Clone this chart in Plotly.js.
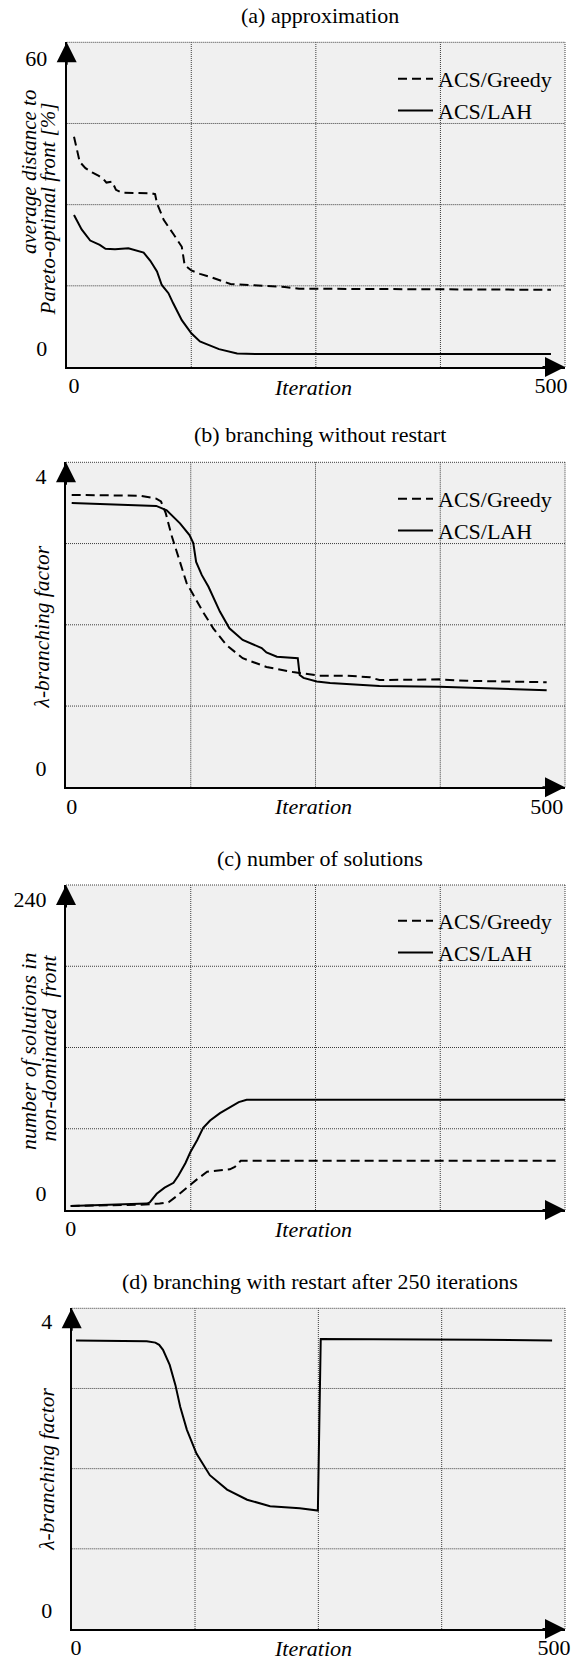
<!DOCTYPE html>
<html>
<head>
<meta charset="utf-8">
<script src="https://cdn.plot.ly/plotly-3.0.1.min.js"></script>
<style>html,body{margin:0;padding:0;background:#fff;}</style>
</head>
<body>
<div id="chart" style="width:573px;height:1660px;"></div>
<script>
// ---------- data ----------
const seriesNames = ['ACS/Greedy', 'ACS/LAH'];
const panelTitles = ['(a) approximation', '(b) branching without restart', '(c) number of solutions', '(d) branching with restart after 250 iterations'];
const xTickVals = [0, 500];
const xTickText = ['0', '500'];
const xTitle = 'Iteration';

// (a) average distance to Pareto-optimal front [%]
const aTickVals = [0, 60];
const aGreedyX = [0, 6, 12, 19, 26, 31, 34, 40, 44, 50, 81, 85, 87, 94, 104, 113, 116, 123, 132, 144, 164, 190, 221, 236, 267, 500];
const aGreedyY = [45.0, 39.8, 38.5, 37.6, 36.9, 36.2, 35.5, 35.7, 34.0, 33.4, 33.3, 33.1, 31.2, 27.8, 24.9, 22.2, 18.4, 17.3, 16.6, 15.9, 14.5, 14.2, 13.9, 13.5, 13.5, 13.3];
const aLahX = [0, 8, 17, 24, 27, 33, 43, 57, 64, 73, 80, 87, 92, 99, 104, 113, 123, 132, 137, 152, 171, 190, 500];
const aLahY = [28.8, 25.8, 23.5, 22.8, 22.6, 21.8, 21.7, 21.9, 21.5, 21.0, 19.3, 17.1, 14.3, 12.6, 10.5, 7.0, 4.3, 2.6, 2.2, 1.0, 0.1, 0, 0];

// (b) lambda-branching factor, no restart
const bTickVals = [0, 4];
const bGreedyX = [0, 72, 89, 94, 99, 105, 114, 121, 128, 138, 149, 163, 180, 205, 233, 261, 289, 314, 324, 387, 416, 500];
const bGreedyY = [3.75, 3.74, 3.70, 3.66, 3.50, 3.20, 2.83, 2.54, 2.38, 2.15, 1.92, 1.69, 1.51, 1.39, 1.32, 1.27, 1.27, 1.25, 1.21, 1.22, 1.20, 1.18];
const bLahX = [0, 89, 100, 114, 124, 128, 131, 137, 144, 156, 166, 180, 200, 205, 216, 238, 240, 244, 258, 272, 324, 387, 500];
const bLahY = [3.64, 3.60, 3.54, 3.36, 3.20, 3.09, 2.83, 2.65, 2.49, 2.15, 1.92, 1.76, 1.65, 1.59, 1.53, 1.51, 1.28, 1.24, 1.19, 1.17, 1.13, 1.12, 1.07];

// (c) number of solutions in non-dominated front
const cTickVals = [0, 240];
const cGreedyX = [0, 70, 90, 99, 107, 117, 128, 138, 148, 161, 166, 172, 495];
const cGreedyY = [0, 1, 2, 3, 8, 15, 22, 28, 29, 30, 32, 37, 37];
const cLahX = [0, 77, 80, 87, 95, 104, 109, 116, 121, 128, 134, 141, 151, 161, 170, 178, 500];
const cLahY = [0, 2, 3, 10, 15, 19, 25, 35, 44, 54, 64, 70, 76, 81, 85, 87, 87];

// (d) lambda-branching factor with restart after 250 iterations
const dTickVals = [0, 4];
const dX = [0, 60, 74, 83, 87, 91, 98, 104, 109, 116, 126, 140, 158, 179, 203, 234, 253, 256, 318, 423, 498];
const dY = [3.74, 3.74, 3.73, 3.71, 3.68, 3.61, 3.40, 3.12, 2.82, 2.50, 2.17, 1.87, 1.67, 1.53, 1.44, 1.41, 1.38, 3.76, 3.76, 3.75, 3.74];

// ---------- styling ----------
const FONT = '"Liberation Serif", "Times New Roman", Times, serif';
const W = 573, H = 1660;
const px = v => v / W;
const py = v => 1 - v / H;
const greedyLine = {color: '#000', width: 2, dash: '9px,5px'};
const lahLine = {color: '#000', width: 2};

const traces = [
  {x: aGreedyX, y: aGreedyY, xaxis: 'x', yaxis: 'y', legend: 'legend', name: seriesNames[0], mode: 'lines', line: greedyLine},
  {x: aLahX, y: aLahY, xaxis: 'x', yaxis: 'y', legend: 'legend', name: seriesNames[1], mode: 'lines', line: lahLine},
  {x: bGreedyX, y: bGreedyY, xaxis: 'x2', yaxis: 'y2', legend: 'legend2', name: seriesNames[0], mode: 'lines', line: greedyLine},
  {x: bLahX, y: bLahY, xaxis: 'x2', yaxis: 'y2', legend: 'legend2', name: seriesNames[1], mode: 'lines', line: lahLine},
  {x: cGreedyX, y: cGreedyY, xaxis: 'x3', yaxis: 'y3', legend: 'legend3', name: seriesNames[0], mode: 'lines', line: greedyLine},
  {x: cLahX, y: cLahY, xaxis: 'x3', yaxis: 'y3', legend: 'legend3', name: seriesNames[1], mode: 'lines', line: lahLine},
  {x: dX, y: dY, xaxis: 'x4', yaxis: 'y4', name: seriesNames[1], mode: 'lines', line: lahLine, showlegend: false}
];

const tickFont = {family: FONT, size: 22, color: '#000'};
function xAxis(domain, range, anchor) {
  return {domain, range, anchor, tickvals: xTickVals, ticktext: xTickText, showgrid: false, zeroline: false,
    showline: true, linecolor: '#000', linewidth: 2, ticks: '', tickfont: tickFont, fixedrange: true, ticklabelstandoff: -2};
}
function yAxis(domain, range, anchor, tickvals, shift) {
  return {domain, range, anchor, tickvals, showgrid: false, zeroline: false,
    showline: true, linecolor: '#000', linewidth: 2, ticks: '', tickfont: tickFont, fixedrange: true,
    ticklabelstandoff: 13, ticklabelshift: shift};
}

const panels = [
  {xa: 'x', ya: 'y'}, {xa: 'x2', ya: 'y2'}, {xa: 'x3', ya: 'y3'}, {xa: 'x4', ya: 'y4'}
];
const gridLine = {color: '#3c3c3c', width: 1, dash: '1px,1px'};
const shapes = [];
const annotations = [];
panels.forEach(p => {
  const xd = p.xa + ' domain', yd = p.ya + ' domain';
  [0.25, 0.5, 0.75, 1].forEach(f => {
    shapes.push({type: 'line', xref: xd, yref: yd, x0: f, x1: f, y0: 0, y1: 1, line: gridLine, layer: 'below'});
    shapes.push({type: 'line', xref: xd, yref: yd, x0: 0, x1: 1, y0: f, y1: f, line: gridLine, layer: 'below'});
  });
  // axis arrowheads
  annotations.push({xref: xd, yref: yd, x: 0, y: 1, ax: 0, ay: 24, text: '', showarrow: true,
    arrowhead: 2, arrowsize: 2, arrowwidth: 2, arrowcolor: '#000'});
  annotations.push({xref: xd, yref: yd, x: 1, y: 0, ax: -24, ay: 0, text: '', showarrow: true,
    arrowhead: 2, arrowsize: 2, arrowwidth: 2, arrowcolor: '#000'});
});

const titleY = [15.7, 435, 858.3, 1281.7];
panelTitles.forEach((t, i) => {
  annotations.push({xref: 'paper', yref: 'paper', x: px(320), y: py(titleY[i]), text: t, showarrow: false,
    xanchor: 'center', yanchor: 'middle', font: {family: FONT, size: 22, color: '#000'}});
});
const iterY = [387, 807, 1229, 1648.5];
iterY.forEach(v => {
  annotations.push({xref: 'paper', yref: 'paper', x: px(313), y: py(v), text: xTitle, showarrow: false,
    xanchor: 'center', yanchor: 'middle', font: {family: FONT, size: 22, color: '#000', style: 'italic'}});
});
const yTitles = [
  {t: 'average distance to', x: 28.3, y: 171.7, s: 21},
  {t: 'Pareto-optimal front [%]', x: 47.5, y: 209, s: 21},
  {t: 'λ-branching factor', x: 41.7, y: 626.7, s: 21.5},
  {t: 'number of solutions in', x: 28.3, y: 1051.7, s: 22},
  {t: 'non-dominated  front', x: 48.3, y: 1048.3, s: 22},
  {t: 'λ-branching factor', x: 46.7, y: 1469, s: 21.5}
];
yTitles.forEach(o => {
  annotations.push({xref: 'paper', yref: 'paper', x: px(o.x), y: py(o.y), text: o.t, showarrow: false,
    textangle: -90, xanchor: 'center', yanchor: 'middle', font: {family: FONT, size: o.s, color: '#000', style: 'italic'}});
});

function legendAt(topPx) {
  return {x: px(393), xanchor: 'left', y: py(topPx), yanchor: 'top', bgcolor: 'rgba(0,0,0,0)', borderwidth: 0,
    font: {family: FONT, size: 22, color: '#000'}, itemwidth: 35};
}

const layout = {
  width: W, height: H,
  margin: {l: 0, r: 0, t: 0, b: 0},
  paper_bgcolor: '#fff',
  plot_bgcolor: '#f0f0f0',
  font: {family: FONT, size: 22, color: '#000'},
  showlegend: true,
  xaxis: xAxis([px(66.7), px(565)], [-7.65, 514.7], 'y'),
  yaxis: yAxis([py(367), py(42.3)], [-2.692, 64.56], 'x', aTickVals, -6),
  xaxis2: xAxis([px(66), px(565)], [-6, 519.3], 'y2'),
  yaxis2: yAxis([py(787.3), py(462.3)], [-0.261, 4.198], 'x2', bTickVals, 0),
  xaxis3: xAxis([px(66), px(565)], [-4.75, 500], 'y3'),
  yaxis3: yAxis([py(1210), py(885)], [-3.27, 262.7], 'x3', cTickVals, -13),
  xaxis4: xAxis([px(71.7), px(565)], [-4.5, 511.5], 'y4'),
  yaxis4: yAxis([py(1629), py(1308.3)], [-0.264, 4.186], 'x4', dTickVals, 0),
  legend: legendAt(58),
  legend2: legendAt(478),
  legend3: legendAt(900),
  shapes, annotations
};

Plotly.newPlot('chart', traces, layout, {displayModeBar: false, staticPlot: true});
</script>
</body>
</html>
